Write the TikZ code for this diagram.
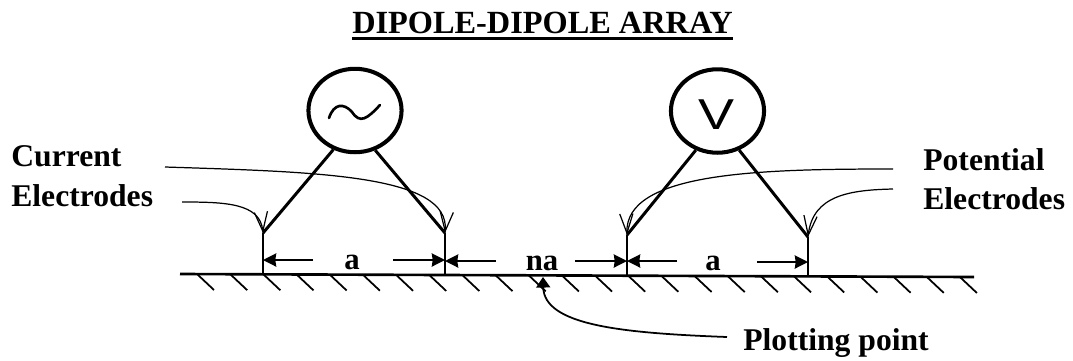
\documentclass[tikz,border=0pt]{standalone}
\usepackage{fontspec}
\usepackage{graphicx}
\setmainfont{Liberation Serif}
\newfontfamily\metersans{Liberation Sans}
\usetikzlibrary{arrows.meta,shapes.geometric}
\tikzset{
  lbl/.style={inner sep=0pt,anchor=base west,font=\fontsize{18}{20}\selectfont\bfseries},
  dimlbl/.style={inner sep=0pt,anchor=base,font=\fontsize{17.5}{20}\selectfont\bfseries},
  meter/.style={draw,ellipse,line width=2.3pt,minimum width=53pt,minimum height=47.5pt,inner sep=0pt},
  wire/.style={line width=1.7pt},
  leader/.style={line width=0.7pt,-{Straight Barb[length=11pt,width=7.5pt]}},
  dimarrow/.style={line width=1.1pt,-{Stealth[length=7.5pt,width=7.5pt,inset=0.5pt]}}
}
\begin{document}
\begin{tikzpicture}[x=0.02cm,y=-0.02cm]
\useasboundingbox (0,0) rectangle (1073,360);

\node[inner sep=0pt,anchor=base,font=\fontsize{18.4}{22}\selectfont\bfseries] (title) at (542.5,33) {DIPOLE-DIPOLE ARRAY};
\draw[line width=1.7pt] ([yshift=-2.9pt]title.base west) -- ([yshift=-2.9pt]title.base east);

\node[meter] (ac) at (355,110.5) {};
\node[meter] (volt) at (717.5,111) {};
\node[inner sep=0pt,font=\fontsize{24.6}{25}\metersans] (vlt) at (717,115) {\scalebox{1.25}[1]{V}};
\draw[line width=1.5pt,line cap=round] (329,118) .. controls (334,103) and (344,103) .. (352,112) .. controls (360,124) and (367,119) .. (380,105);

% ground
\coordinate (gl) at (180,274);
\coordinate (gr) at (974,277);
\draw[line width=1.5pt] (gl) -- (gr);
\foreach \x in {0,...,23}
  \draw[line width=1pt] ({197+33.17*\x},{274+0.13*\x}) -- ++(17,16);

% electrodes
\coordinate (e1) at (263,233);
\coordinate (e2) at (445,233);
\coordinate (e3) at (627,235);
\coordinate (e4) at (808,237);
\coordinate (b1) at (263,275);
\coordinate (b2) at (445,275);
\coordinate (b3) at (627,276);
\coordinate (b4) at (808,277);
\foreach \a/\b in {e1/b1,e2/b2,e3/b3,e4/b4}
  \draw[wire] (\a) -- (\b);

\draw[wire] (ac.-119) -- (e1);
\draw[wire] (ac.-63) -- (e2);
\draw[wire] (volt.-119) -- (e3);
\draw[wire] (volt.-61) -- (e4);

% spacing
\node[dimlbl] (a1) at (352,269) {a};
\node[dimlbl] (na) at (542,270) {na};
\node[dimlbl] (a2) at (713,270) {a};
\coordinate (d1) at (313,260);
\coordinate (d2) at (393,260);
\coordinate (d3) at (496,261);
\coordinate (d4) at (575,261);
\coordinate (d5) at (677,261);
\coordinate (d6) at (757,262);
\coordinate (m1) at (263,260);
\coordinate (m2) at (445,260);
\coordinate (m2b) at (445,261);
\coordinate (m3) at (627,261);
\coordinate (m4) at (808,262);
\foreach \a/\b in {d1/m1,d2/m2,d3/m2b,d4/m3,d5/m3,d6/m4}
  \draw[dimarrow] (\a) -- (\b);

% labels
\node[lbl] (cur) at (11,166) {Current};
\node[lbl] (curel) at (11,206) {Electrodes};
\node[lbl] (pot) at (923,170) {Potential};
\node[lbl] (potel) at (923,209) {Electrodes};
\node[lbl] (plot) at (743,350) {Plotting point};

\coordinate (c1) at (165,167);
\coordinate (c2) at (182,202);
\coordinate (p1) at (893,169);
\coordinate (p2) at (893,189);
\coordinate (q) at (727,337);
\coordinate (t) at (543,277);

\draw[leader] (c1) .. controls (320,172) and (450,175) .. (e2);
\draw[leader] (c2) .. controls (225,202) and (260,203) .. (e1);
\draw[leader] (p1) .. controls (760,169) and (625,172) .. (e3);
\draw[leader] (p2) .. controls (850,190) and (813,195) .. (e4);
\draw[line width=1pt,-{Stealth[length=6pt,width=8pt,inset=0pt]}] (q) .. controls (620,333) and (544,325) .. (t);
\end{tikzpicture}
\end{document}
